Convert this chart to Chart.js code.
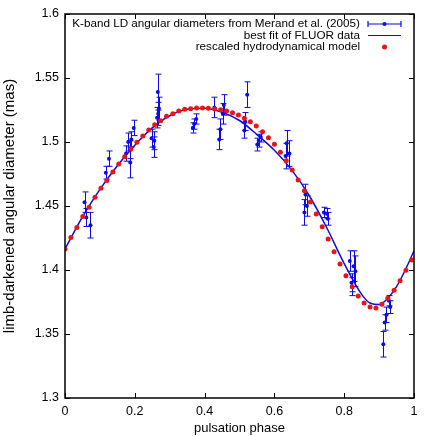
<!DOCTYPE html>
<html>
<head>
<meta charset="utf-8">
<script src="https://cdn.jsdelivr.net/npm/chart.js@4.4.0/dist/chart.umd.min.js"></script>
<style>
  body { margin: 0; background: #fff; }
  #wrap { width: 436px; height: 436px; }
</style>
</head>
<body>
<div id="wrap"><canvas id="chart" width="436" height="436"></canvas></div>
<script>
// FLUOR K-band points (phase, diameter, error)
const phaseFluor = [0.056, 0.061, 0.073, 0.117, 0.126, 0.175, 0.181, 0.187, 0.187, 0.190, 0.197,
  0.248, 0.254, 0.256, 0.264, 0.266, 0.267, 0.269, 0.366, 0.370, 0.376,
  0.428, 0.442, 0.445, 0.452, 0.455, 0.514, 0.516, 0.522, 0.551, 0.555, 0.561,
  0.632, 0.635, 0.643, 0.686, 0.689, 0.693, 0.742, 0.750, 0.753,
  0.816, 0.821, 0.823, 0.827, 0.832, 0.912, 0.916, 0.921, 0.928, 0.932]
const diamFluor = [1.453, 1.441, 1.435, 1.476, 1.487, 1.491, 1.500, 1.494, 1.484, 1.502, 1.511,
  1.503, 1.496, 1.501, 1.519, 1.539, 1.522, 1.526, 1.511, 1.514, 1.518,
  1.527, 1.502, 1.510, 1.522, 1.529, 1.509, 1.516, 1.537, 1.498, 1.501, 1.504,
  1.489, 1.499, 1.491, 1.445, 1.459, 1.450, 1.445, 1.444, 1.440,
  1.407, 1.390, 1.387, 1.403, 1.399, 1.342, 1.359, 1.365, 1.376, 1.371]
const errFluor = [0.008, 0.007, 0.010, 0.005, 0.006, 0.006, 0.007, 0.007, 0.012, 0.006, 0.006,
  0.007, 0.008, 0.007, 0.008, 0.014, 0.009, 0.009, 0.004, 0.004, 0.004,
  0.008, 0.008, 0.008, 0.008, 0.008, 0.006, 0.007, 0.010, 0.005, 0.005, 0.004,
  0.010, 0.010, 0.010, 0.010, 0.008, 0.008, 0.004, 0.004, 0.005,
  0.008, 0.007, 0.007, 0.012, 0.012, 0.010, 0.006, 0.006, 0.004, 0.005]

// best fit curve
const phaseFit = [0, 0.05, 0.1, 0.15, 0.2, 0.25, 0.3, 0.35, 0.4, 0.45, 0.5, 0.55, 0.6, 0.65,
  0.7, 0.75, 0.8, 0.85, 0.875, 0.9, 0.925, 0.95, 0.975, 1]
const diamFit = [1.4164, 1.4415, 1.4630, 1.4815, 1.4975, 1.5110, 1.5205, 1.5255, 1.5263, 1.5232,
  1.5168, 1.5058, 1.4935, 1.4780, 1.4580, 1.4330, 1.4050, 1.3810, 1.3740, 1.3730, 1.3780,
  1.3870, 1.4000, 1.4150]

// hydrodynamical model dots
const phaseModel = [0.000, 0.017, 0.034, 0.051, 0.069, 0.086, 0.103, 0.120, 0.137, 0.154,
  0.171, 0.189, 0.206, 0.223, 0.240, 0.257, 0.274, 0.291, 0.309, 0.326,
  0.343, 0.360, 0.377, 0.394, 0.411, 0.429, 0.446, 0.463, 0.480, 0.497,
  0.514, 0.531, 0.548, 0.566, 0.583, 0.600, 0.617, 0.634, 0.651, 0.668,
  0.686, 0.703, 0.720, 0.737, 0.754, 0.771, 0.788, 0.805, 0.823, 0.840,
  0.857, 0.874, 0.891, 0.908, 0.925, 0.943, 0.960, 0.977, 0.994]
const diamModel = [1.4164, 1.4253, 1.4333, 1.4417, 1.4490, 1.4568, 1.4638, 1.4700, 1.4766, 1.4828,
  1.4885, 1.4945, 1.4998, 1.5047, 1.5094, 1.5135, 1.5166, 1.5201, 1.5221, 1.5242,
  1.5255, 1.5260, 1.5266, 1.5266, 1.5263, 1.5258, 1.5252, 1.5242, 1.5229, 1.5211,
  1.5185, 1.5159, 1.5125, 1.5080, 1.5034, 1.4982, 1.4920, 1.4854, 1.4781, 1.4703,
  1.4620, 1.4531, 1.4438, 1.4338, 1.4242, 1.4143, 1.4047, 1.3955, 1.3870, 1.3797,
  1.3742, 1.3711, 1.3703, 1.3732, 1.3779, 1.3841, 1.3916, 1.3998, 1.4078]

const xTicks = [0, 0.2, 0.4, 0.6, 0.8, 1]
const xTickLabels = ['0', '0.2', '0.4', '0.6', '0.8', '1']
const yTicks = [1.3, 1.35, 1.4, 1.45, 1.5, 1.55, 1.6]
const yTickLabels = ['1.3', '1.35', '1.4', '1.45', '1.5', '1.55', '1.6']

const legendLabels = ['K-band LD angular diameters from Merand et al. (2005)',
  'best fit of FLUOR data', 'rescaled hydrodynamical model']

const BLUE = 'rgb(10,10,235)'
const RED = 'rgb(235,20,20)'
const FONT = '"Liberation Sans", Arial, sans-serif'

const errorBars = {
  id: 'errorBars',
  beforeDatasetsDraw(chart) {
    const { ctx, chartArea, scales: { x, y } } = chart
    ctx.save()
    ctx.beginPath()
    ctx.rect(chartArea.left, chartArea.top, chartArea.right - chartArea.left, chartArea.bottom - chartArea.top)
    ctx.clip()
    ctx.strokeStyle = BLUE
    ctx.lineWidth = 1
    phaseFluor.forEach((p, i) => {
      const px = Math.round(x.getPixelForValue(p)) + 0.5
      const y1 = y.getPixelForValue(diamFluor[i] + errFluor[i])
      const y2 = y.getPixelForValue(diamFluor[i] - errFluor[i])
      ctx.beginPath()
      ctx.moveTo(px, y1); ctx.lineTo(px, y2)
      ctx.moveTo(px - 3, y1); ctx.lineTo(px + 3, y1)
      ctx.moveTo(px - 3, y2); ctx.lineTo(px + 3, y2)
      ctx.stroke()
    })
    ctx.restore()
  }
}

const frame = {
  id: 'frame',
  afterDraw(chart) {
    const { ctx, chartArea: a, scales: { x, y } } = chart
    ctx.save()
    ctx.strokeStyle = '#000'
    ctx.lineWidth = 1
    ctx.beginPath()
    xTicks.forEach(v => {
      const px = Math.round(x.getPixelForValue(v)) + 0.5
      ctx.moveTo(px, a.bottom); ctx.lineTo(px, a.bottom - 5)
      ctx.moveTo(px, a.top); ctx.lineTo(px, a.top + 5)
    })
    yTicks.forEach(v => {
      const py = Math.round(y.getPixelForValue(v)) + 0.5
      ctx.moveTo(a.left, py); ctx.lineTo(a.left + 5, py)
      ctx.moveTo(a.right, py); ctx.lineTo(a.right - 5, py)
    })
    ctx.stroke()
    ctx.lineWidth = 1.5
    ctx.strokeRect(a.left, a.top, a.right - a.left, a.bottom - a.top)

    // legend, gnuplot style
    ctx.font = '11.7px ' + FONT
    ctx.fillStyle = '#000'
    ctx.textAlign = 'right'
    ctx.textBaseline = 'middle'
    const rows = [24, 35.5, 47]
    legendLabels.forEach((t, i) => ctx.fillText(t, 360, rows[i]))
    ctx.strokeStyle = BLUE
    ctx.lineWidth = 1.2
    ctx.beginPath()
    ctx.moveTo(368, rows[0]); ctx.lineTo(401, rows[0])
    ctx.moveTo(368, rows[0] - 3); ctx.lineTo(368, rows[0] + 3)
    ctx.moveTo(401, rows[0] - 3); ctx.lineTo(401, rows[0] + 3)
    ctx.moveTo(368, rows[1]); ctx.lineTo(401, rows[1])
    ctx.stroke()
    ctx.fillStyle = BLUE
    ctx.beginPath(); ctx.arc(384.5, rows[0], 2, 0, Math.PI * 2); ctx.fill()
    ctx.fillStyle = RED
    ctx.beginPath(); ctx.arc(384.5, rows[2], 2.5, 0, Math.PI * 2); ctx.fill()
    ctx.restore()
  }
}

new Chart(document.getElementById('chart'), {
  type: 'scatter',
  data: {
    datasets: [
      {
        label: legendLabels[2],
        data: phaseModel.map((p, i) => ({ x: p, y: diamModel[i] })),
        backgroundColor: RED,
        borderWidth: 0,
        pointRadius: 2.5,
        order: 0
      },
      {
        type: 'line',
        label: legendLabels[1],
        data: phaseFit.map((p, i) => ({ x: p, y: diamFit[i] })),
        borderColor: BLUE,
        borderWidth: 1.5,
        pointRadius: 0,
        fill: false,
        cubicInterpolationMode: 'monotone',
        order: 1
      },
      {
        label: legendLabels[0],
        data: phaseFluor.map((p, i) => ({ x: p, y: diamFluor[i] })),
        backgroundColor: BLUE,
        borderWidth: 0,
        pointRadius: 2,
        order: 2
      }
    ]
  },
  options: {
    responsive: false,
    animation: false,
    layout: { padding: { top: 14, right: 22, left: 0, bottom: 0 } },
    plugins: { legend: { display: false }, tooltip: { enabled: false } },
    scales: {
      x: {
        type: 'linear', min: 0, max: 1,
        afterFit: s => { s.height = 38 },
        afterBuildTicks: s => { s.ticks = xTicks.map(v => ({ value: v })) },
        grid: { display: false, drawTicks: false },
        border: { display: false },
        ticks: {
          padding: 6, color: '#000', font: { family: FONT, size: 12.5 },
          callback: (v) => xTickLabels[xTicks.indexOf(v)]
        },
        title: { display: true, text: 'pulsation phase', color: '#000', font: { family: FONT, size: 13 }, padding: { top: 0, bottom: 0 } }
      },
      y: {
        type: 'linear', min: 1.3, max: 1.6,
        afterFit: s => { s.width = 65 },
        afterBuildTicks: s => { s.ticks = yTicks.map(v => ({ value: v })) },
        grid: { display: false, drawTicks: false },
        border: { display: false },
        ticks: {
          padding: 6, color: '#000', font: { family: FONT, size: 12.5 },
          callback: (v) => yTickLabels[yTicks.indexOf(v)]
        },
        title: { display: true, text: 'limb-darkened angular diameter (mas)', color: '#000', font: { family: FONT, size: 15 }, padding: { top: 1, bottom: 0 } }
      }
    }
  },
  plugins: [errorBars, frame]
})
</script>
</body>
</html>
